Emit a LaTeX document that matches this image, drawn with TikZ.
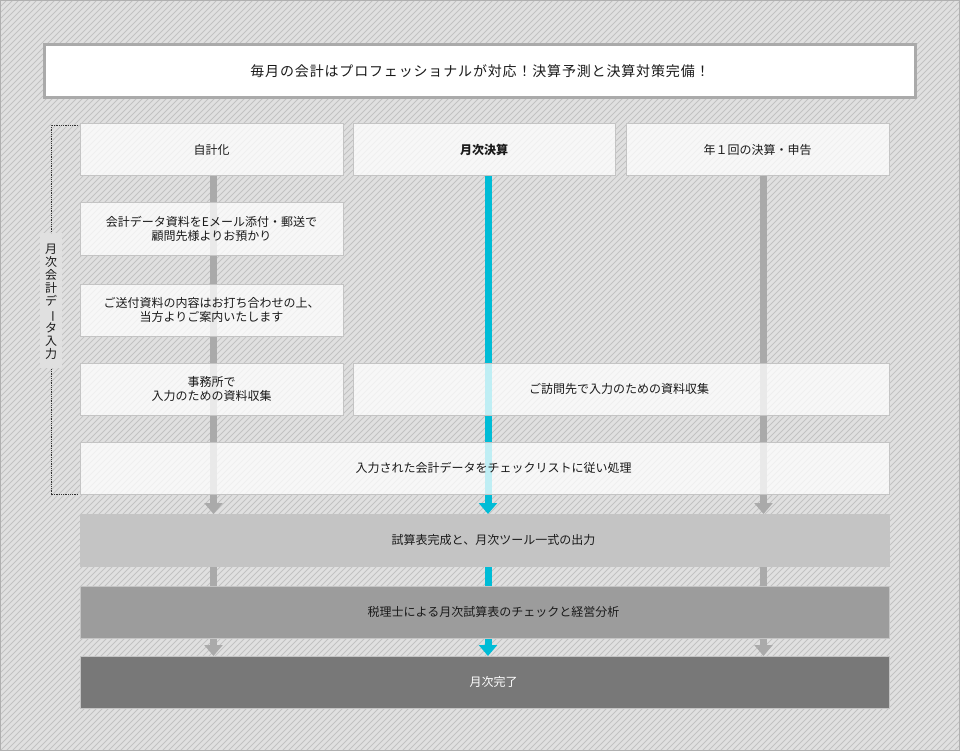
\documentclass[tikz,border=0pt]{standalone}
\usepackage{fontspec}
\usetikzlibrary{arrows.meta}
\newfontfamily\jp{Noto Sans CJK JP}
\newfontfamily\jpt[LetterSpace=6]{Noto Sans CJK JP}
\definecolor{bgc}{HTML}{E0E0E0}
\definecolor{hatchc}{HTML}{C2C2C2}
\definecolor{framec}{HTML}{B0B0B0}
\definecolor{titleb}{HTML}{AAAAAA}
\definecolor{boxb}{HTML}{C4C4C4}
\definecolor{shaftg}{HTML}{AAAAAA}
\definecolor{shaftc}{RGB}{0,188,214}
\definecolor{txt}{HTML}{1A1A1A}
\definecolor{g1}{HTML}{C4C4C4}
\definecolor{g2}{HTML}{9C9C9C}
\definecolor{g3}{HTML}{787878}
\definecolor{dotc}{HTML}{333333}
\begin{document}
\begin{tikzpicture}[x=1pt,y=-1pt,
  jptext/.style={text=txt,inner sep=0pt,align=center,font=\jp\fontsize{12pt}{14.5pt}\selectfont},
  lbox/.style={jptext,draw=boxb,line width=1pt,fill=white,fill opacity=0.75,text opacity=1,
    minimum height=52pt},
  gbox/.style={draw=boxb,line width=1pt,minimum height=52pt,inner sep=0pt},
  shaft/.style={line width=7pt,line cap=butt},
  tipped/.style={-{Triangle[width=18pt,length=11pt]}},
]
% background
\fill[bgc] (0,0) rectangle (960,751);
\begin{scope}
\clip (0,0) rectangle (960,751);
\foreach \i in {-756,-750,...,960} {
  \draw[hatchc,line width=0.8pt] (\i,751) -- ({\i+751},0);
}
\end{scope}
\draw[framec,line width=1pt] (0.5,0.5) rectangle (959.5,750.5);

% title
\node[draw=titleb,line width=3pt,fill=white,minimum width=871pt,minimum height=53pt,inner sep=0pt,
  text=txt,font=\jpt\fontsize{14pt}{16pt}\selectfont] (title) at (480,71) {毎月の会計はプロフェッショナルが対応！決算予測と決算対策完備！};

% shaft x positions
\coordinate (xa) at (213.5,0);
\coordinate (xb) at (488,0);
\coordinate (xc) at (763.5,0);

% row anchors
\coordinate (r1b) at (0,176);
\coordinate (r9t) at (0,514);
\coordinate (r9b) at (0,566);
\coordinate (r10t) at (0,586);
\coordinate (r10b) at (0,638);
\coordinate (r11t) at (0,656);

% arrows (drawn before boxes)
\foreach \xx/\cc in {xa/shaftg,xb/shaftc,xc/shaftg} {
  \draw[shaft,\cc,tipped] (r1b -| \xx) -- (r9t -| \xx);
  \draw[shaft,\cc] (r9b -| \xx) -- (r10t -| \xx);
  \draw[shaft,\cc,tipped] (r10b -| \xx) -- (r11t -| \xx);
}

% left bracket label
\fill[bgc] (40,233) rectangle (62,368);
\node[text=txt,font=\jp\fontsize{12pt}{13pt}\selectfont,align=center,inner sep=0pt] (vlab) at (51,302)
  {月\\次\\会\\計\\デ\\\rotatebox[origin=c]{-90}{ー}\\タ\\入\\力};
\draw[dotc,line width=0.9pt,dash pattern=on 0.9pt off 0.9pt] (78,125) -- (51,125) -- (51,233);
\draw[dotc,line width=0.9pt,dash pattern=on 0.9pt off 0.9pt] (51,369) -- (51,494) -- (78,494);

% boxes
\node[lbox,minimum width=263pt] (n1) at (211.5,150) {自計化};
\node[lbox,minimum width=262pt] (n2) at (484,150) {\bfseries 月次決算};
\node[lbox,minimum width=263pt] (n3) at (757.5,150) {年１回の決算・申告};
\node[lbox,minimum width=263pt] (n4) at (211.5,229) {会計データ資料をEメール添付・郵送で\\顧問先様よりお預かり};
\node[lbox,minimum width=263pt] (n5) at (211.5,310) {ご送付資料の内容はお打ち合わせの上、\\当方よりご案内いたします};
\node[lbox,minimum width=263pt] (n6) at (211.5,389) {事務所で\\入力のための資料収集};
\node[lbox,minimum width=536pt] (n7) at (621,389) {};
\node[jptext] (t7) at ([xshift=-2pt]n7.center) {ご訪問先で入力のための資料収集};
\node[lbox,minimum width=809pt] (n8) at (484.5,468) {};
\node[jptext] (t8) at ([xshift=9pt]n8.center) {入力された会計データをチェックリストに従い処理};
\node[gbox,fill=g1,minimum width=809pt] (n9) at (484.5,540) {};
\node[jptext] (t9) at ([xshift=9pt]n9.center) {試算表完成と、月次ツール一式の出力};
\node[gbox,fill=g2,minimum width=809pt] (n10) at (484.5,612) {};
\node[jptext] (t10) at ([xshift=9pt]n10.center) {税理士による月次試算表のチェックと経営分析};
\node[gbox,fill=g3,minimum width=809pt] (n11) at (484.5,682) {};
\node[jptext,text=white] (t11) at ([xshift=9pt]n11.center) {月次完了};
\end{tikzpicture}
\end{document}
